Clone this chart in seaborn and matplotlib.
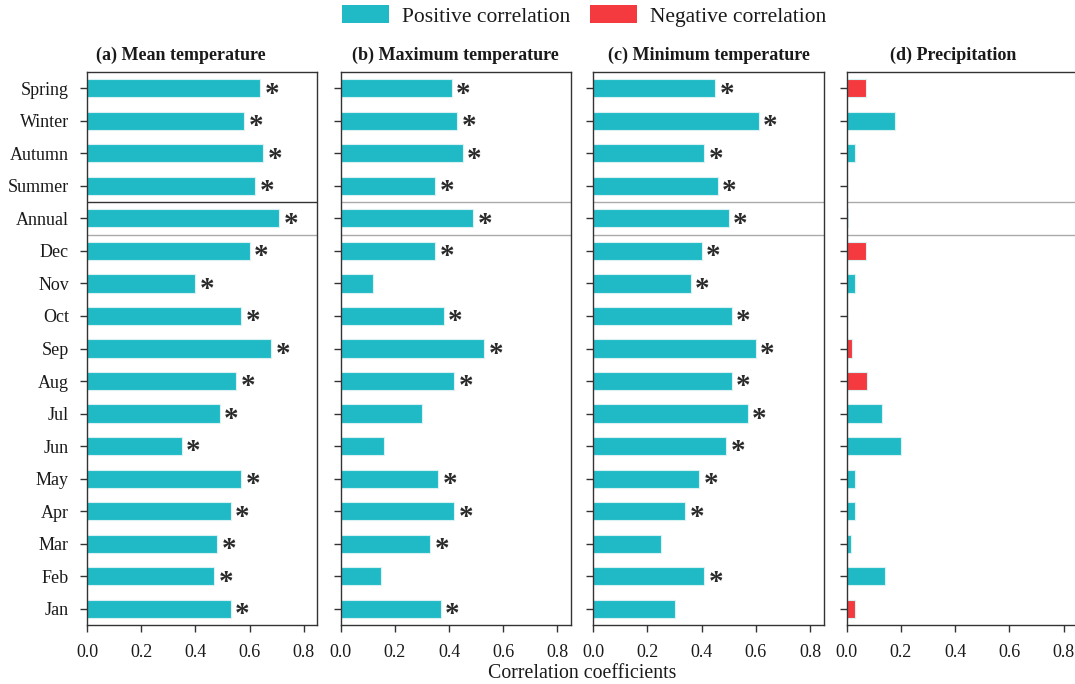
import numpy as np
import pandas as pd
import matplotlib
matplotlib.use("Agg")
import matplotlib.pyplot as plt
from matplotlib.patches import Patch
import seaborn as sns

# Periods, top to bottom
periods = ["Spring", "Winter", "Autumn", "Summer", "Annual",
           "Dec", "Nov", "Oct", "Sep", "Aug", "Jul", "Jun",
           "May", "Apr", "Mar", "Feb", "Jan"]

# Correlation coefficients per climate variable (signed)
mean_temp = [0.64, 0.58, 0.65, 0.62, 0.71, 0.60, 0.40, 0.57, 0.68, 0.55,
             0.49, 0.35, 0.57, 0.53, 0.48, 0.47, 0.53]
max_temp = [0.41, 0.43, 0.45, 0.35, 0.49, 0.35, 0.12, 0.38, 0.53, 0.42,
            0.30, 0.16, 0.36, 0.42, 0.33, 0.15, 0.37]
min_temp = [0.45, 0.61, 0.41, 0.46, 0.50, 0.40, 0.36, 0.51, 0.60, 0.51,
            0.57, 0.49, 0.39, 0.34, 0.25, 0.41, 0.30]
precip = [-0.07, 0.18, 0.03, 0.0, -0.003, -0.07, 0.03, 0.0, -0.02, -0.075,
          0.13, 0.20, 0.03, 0.03, 0.015, 0.14, -0.03]

# Significance flags (1 = significant)
sig_mean = [1] * 17
sig_max = [1, 1, 1, 1, 1, 1, 0, 1, 1, 1, 0, 0, 1, 1, 1, 0, 1]
sig_min = [1, 1, 1, 1, 1, 1, 1, 1, 1, 1, 1, 1, 1, 1, 0, 1, 0]
sig_precip = [0] * 17

titles = ["(a) Mean temperature", "(b) Maximum temperature",
          "(c) Minimum temperature", "(d) Precipitation"]
x_ticks = [0.0, 0.2, 0.4, 0.6, 0.8]
legend_labels = ["Positive correlation", "Negative correlation"]

POS = "#1fbac6"
NEG = "#f43a3f"

sns.set_style("ticks")
plt.rcParams["font.family"] = ["Liberation Serif", "DejaVu Serif"]
plt.rcParams["axes.edgecolor"] = "#333333"
plt.rcParams["xtick.color"] = "#333333"
plt.rcParams["ytick.color"] = "#333333"
plt.rcParams["xtick.labelcolor"] = "#1a1a1a"
plt.rcParams["ytick.labelcolor"] = "#1a1a1a"
plt.rcParams["text.color"] = "#1a1a1a"

fig = plt.figure(figsize=(10.75, 6.84), dpi=100)

W, H = 1075, 684
lefts = [87, 340.6, 593.3, 846.7]
ax_w = 0.85 * 271
top, bottom = 72, 625
title_x = [0.406, 0.5, 0.5, 0.461]

series = [mean_temp, max_temp, min_temp, precip]
sigs = [sig_mean, sig_max, sig_min, sig_precip]

for i in range(4):
    ax = fig.add_axes([lefts[i] / W, 1 - bottom / H, ax_w / W, (bottom - top) / H])
    vals = np.array(series[i])
    df = pd.DataFrame({
        "period": periods,
        "value": np.abs(vals),
        "sign": np.where(vals < 0, "neg", "pos"),
    })
    sns.barplot(data=df, y="period", x="value", hue="sign", order=periods,
                hue_order=["pos", "neg"], palette={"pos": POS, "neg": NEG},
                dodge=False, width=0.56, orient="h", edgecolor="#d9f1f2",
                linewidth=0.8, saturation=1, legend=False, ax=ax)
    ax.set_xlim(0, 0.85)
    ax.set_ylim(len(periods) - 0.5, -0.5)
    ax.set_xticks(x_ticks)
    ax.set_xticklabels([f"{t:.1f}" for t in x_ticks], fontsize=13)
    ax.tick_params(axis="both", direction="out", length=5, width=1, pad=8)
    ax.tick_params(axis="x", pad=9)
    ax.set_yticks(range(len(periods)))
    if i == 0:
        ax.set_yticklabels(periods, fontsize=13)
    else:
        ax.set_yticklabels([])
    ax.set_xlabel("")
    ax.set_ylabel("")
    for s in ax.spines.values():
        s.set_linewidth(1.0)
    # Separate the annual row from the seasons and months
    ax.axhline(3.5, color="#333333" if i == 0 else "#aaaaaa", lw=1.0)
    ax.axhline(4.5, color="#aaaaaa", lw=1.0)
    # Significance markers
    for j, (v, s) in enumerate(zip(vals, sigs[i])):
        if s:
            ax.text(abs(v) + 0.016, j + 0.18, "*", fontsize=21, fontweight="bold",
                    ha="left", va="center", color="#2a2a2a")
    ax.set_title(titles[i], fontsize=13, fontweight="bold", pad=9, x=title_x[i])

fig.text(582 / W, 1 - 674 / H, "Correlation coefficients", ha="center",
         va="center", fontsize=14.3)

handles = [Patch(facecolor=POS, edgecolor="none"),
           Patch(facecolor=NEG, edgecolor="none")]
fig.legend(handles, legend_labels, loc="center", bbox_to_anchor=(584 / W, 1 - 16 / H),
           ncol=2, frameon=False, fontsize=15.5, handlelength=2.2,
           handleheight=0.9, columnspacing=0.9, handletextpad=0.6)

fig.savefig("out.png", dpi=100)
